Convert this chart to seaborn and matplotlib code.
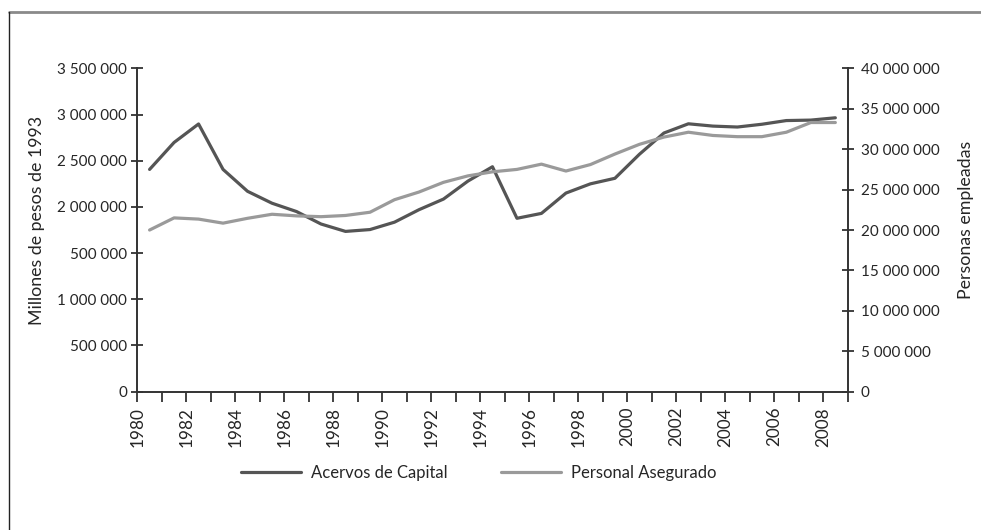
import numpy as np
import pandas as pd
import matplotlib
matplotlib.use("Agg")
import matplotlib.pyplot as plt
import seaborn as sns

# datos
years = list(range(1980, 2009))
acervos = [2406000, 2698000, 2898000, 2406000, 2169000, 2040000, 1950000, 1815000,
           1735000, 1755000, 1835000, 1970000, 2085000, 2280000, 2435000, 1877000,
           1930000, 2150000, 2250000, 2310000, 2570000, 2800000, 2900000, 2875000,
           2865000, 2895000, 2935000, 2940000, 2965000]
personal = [20000000, 21500000, 21350000, 20850000, 21450000, 21950000, 21750000, 21650000,
            21800000, 22200000, 23750000, 24700000, 25900000, 26700000, 27200000, 27500000,
            28150000, 27300000, 28100000, 29400000, 30600000, 31500000, 32100000, 31700000,
            31550000, 31550000, 32100000, 33300000, 33300000]

left_ticks = [0, 500000, 1000000, 1500000, 2000000, 2500000, 3000000, 3500000]
left_labels = ['0', '500 000', '1 000 000', '500 000', '2 000 000', '2 500 000', '3 000 000', '3 500 000']
right_ticks = list(range(0, 40000001, 5000000))
right_labels = ['0' if v == 0 else '{:,}'.format(v).replace(',', ' ') for v in right_ticks]

df = pd.DataFrame({'year': years, 'acervos': acervos, 'personal': personal})

sns.set_style("white")
plt.rcParams['font.family'] = ['Lato', 'DejaVu Sans']

dark = '#555555'
light = '#9a9a9a'
axcol = '#333333'

fig = plt.figure(figsize=(9.81, 5.30), dpi=100)
ax = fig.add_axes([0.140, 0.261, 0.724, 0.610])
ax2 = ax.twinx()

sns.lineplot(data=df, x='year', y='acervos', ax=ax, color=dark, linewidth=2.3,
             label='Acervos de Capital', legend=False)
sns.lineplot(data=df, x='year', y='personal', ax=ax2, color=light, linewidth=2.3,
             label='Personal Asegurado', legend=False)

ax.set_xlim(1979.5, 2008.5)
ax.set_ylim(0, 3500000)
ax2.set_ylim(0, 40000000)

xt = np.arange(1979.5, 2009, 1.0)
ax.set_xticks(xt)
ax.set_xticklabels([str(1980 + i) if i % 2 == 0 else '' for i in range(len(xt))],
                   rotation=90, fontsize=12.3)
ax.set_yticks(left_ticks)
ax.set_yticklabels(left_labels, fontsize=11)
ax2.set_yticks(right_ticks)
ax2.set_yticklabels(right_labels, fontsize=11)

ax.tick_params(axis='x', direction='out', length=7, width=1.3, color=axcol, pad=4, bottom=True)
ax.tick_params(axis='y', direction='inout', length=9, width=1.3, color=axcol, pad=3, left=True)
ax2.tick_params(axis='y', direction='inout', length=9, width=1.3, color=axcol, pad=5, right=True)

for a in (ax, ax2):
    for s in a.spines.values():
        s.set_visible(False)
        s.set_color(axcol)
        s.set_linewidth(1.4)
ax.spines['left'].set_visible(True)
ax.spines['bottom'].set_visible(True)
ax2.spines['right'].set_visible(True)

ax.set_xlabel('')
ax.set_ylabel('Millones de pesos de 1993', fontsize=12.8)
ax2.set_ylabel('Personas empleadas', fontsize=12.8)
ax.yaxis.set_label_coords(-0.13, 0.53)
ax2.yaxis.set_label_coords(1.155, 0.53)

h1, l1 = ax.get_legend_handles_labels()
h2, l2 = ax2.get_legend_handles_labels()
fig.legend(h1 + h2, l1 + l2, loc='center', bbox_to_anchor=(0.488, 0.108), ncol=2,
           frameon=False, fontsize=12, handlelength=3.6, columnspacing=3.2, handletextpad=0.6)

# marco exterior
fig.add_artist(plt.Line2D([0.0095, 1.0], [1 - 12 / 530, 1 - 12 / 530], transform=fig.transFigure,
                          color='#8a8a8a', linewidth=2))
fig.add_artist(plt.Line2D([0.0095, 0.0095], [0.0, 1 - 12 / 530], transform=fig.transFigure,
                          color='#222222', linewidth=1))

fig.savefig('out.png', dpi=100)
